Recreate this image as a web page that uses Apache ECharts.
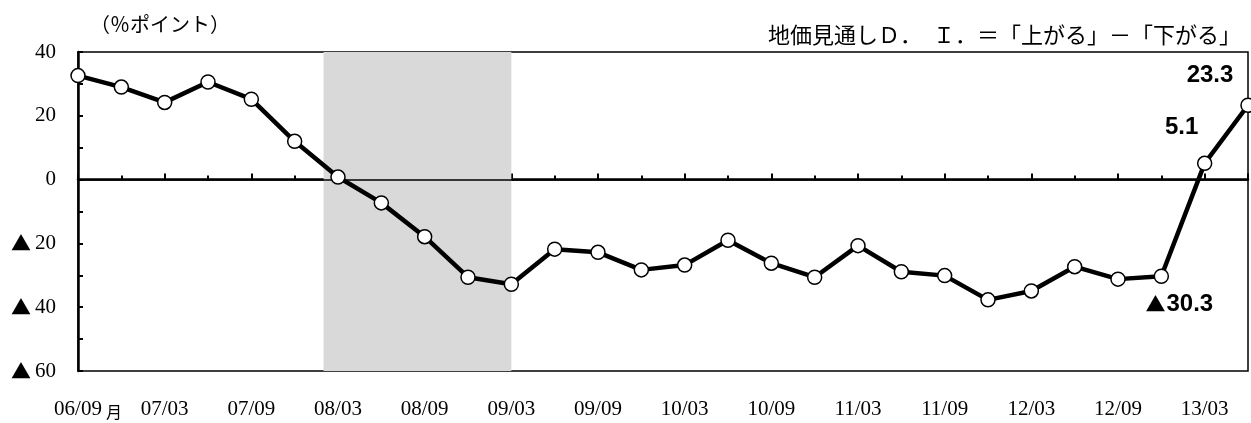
<!DOCTYPE html>
<html>
<head>
<meta charset="utf-8">
<script src="https://cdn.jsdelivr.net/npm/echarts@6.0.0/dist/echarts.min.js"></script>
<style>
  html, body { margin: 0; padding: 0; background: #fff; }
  #chart { width: 1251px; height: 423px; }
</style>
</head>
<body>
<div id="chart"></div>
<script>
// quarterly survey, 06/09 .. 13/06
const quarters = [
  '06/09', '06/12', '07/03', '07/06', '07/09', '07/12', '08/03', '08/06',
  '08/09', '08/12', '09/03', '09/06', '09/09', '09/12', '10/03', '10/06',
  '10/09', '10/12', '11/03', '11/06', '11/09', '11/12', '12/03', '12/06',
  '12/09', '12/12', '13/03', '13/06'
]
const diValues = [
  32.6, 29.0, 24.2, 30.6, 25.2, 12.0, 0.8, -7.3,
  -17.9, -30.6, -32.8, -21.8, -22.8, -28.3, -26.8, -19.0,
  -26.2, -30.6, -20.7, -28.9, -30.1, -37.7, -34.9, -27.3,
  -31.2, -30.3, 5.1, 23.3
]
const labeledPoints = [25, 26, 27]
// recession band: 2008/02 .. 2009/03 (in quarter index units)
const recessionBand = [5 + 2 / 3, 10]
const yTicks = [-60, -40, -20, 0, 20, 40]

const serif = '"Liberation Serif", "DejaVu Serif", serif'
const jp = '"Noto Sans CJK JP", sans-serif'
const narrow = '"Liberation Sans Narrow", "Liberation Sans", sans-serif'

// negative values are written with a ▲ in front
function fmtValue(v) {
    return v < 0 ? '{tri|▲}' + Math.abs(v) : String(v)
}

const labelOffsets = {
    25: [18, 28],
    26: [-23, -36],
    27: [-38, -30]
}

const seriesData = diValues.map((v, i) => {
    const item = { value: [i, v] }
    if (labeledPoints.includes(i)) {
        item.label = {
            show: true,
            position: 'inside',
            offset: labelOffsets[i],
            formatter: p => fmtValue(p.value[1]),
            fontFamily: narrow,
            fontWeight: 'bold',
            fontSize: 24,
            color: '#000',
            rich: {
                tri: { fontFamily: jp, fontSize: 20, color: '#000', padding: [0, 1, 0, 0] }
            }
        }
    }
    return item
})

const chart = echarts.init(document.getElementById('chart'))

chart.setOption({
    animation: false,
    grid: {
        left: 78,
        right: 2,
        top: 52,
        bottom: 52,
        show: true,
        borderColor: '#000',
        borderWidth: 1.5,
        backgroundColor: 'transparent'
    },
    xAxis: {
        type: 'value',
        min: 0,
        max: quarters.length - 1,
        interval: 2,
        axisLine: { show: true, lineStyle: { color: '#000', width: 2.5 } },
        axisTick: { show: true, inside: true, length: 6, lineStyle: { color: '#000', width: 2 } },
        minorTick: { show: true, splitNumber: 2, length: 4, lineStyle: { color: '#000', width: 2 } },
        splitLine: { show: false },
        axisLabel: {
            margin: 28,
            color: '#000',
            fontFamily: serif,
            fontSize: 21,
            formatter: v => (v % 2 === 0 && quarters[v]) ? quarters[v] : ''
        }
    },
    yAxis: {
        type: 'value',
        min: yTicks[0],
        max: yTicks[yTicks.length - 1],
        interval: 20,
        axisLine: { show: true, lineStyle: { color: '#000', width: 2.5 } },
        axisTick: { show: true, inside: true, length: 5, lineStyle: { color: '#000', width: 2 } },
        minorTick: { show: true, splitNumber: 2, length: 5, lineStyle: { color: '#000', width: 2 } },
        splitLine: { show: false },
        axisLabel: {
            margin: 22,
            color: '#000',
            fontFamily: serif,
            fontSize: 21,
            formatter: v => fmtValue(v),
            rich: {
                tri: { fontFamily: jp, fontSize: 20, color: '#000', padding: [0, 4, 0, 0] }
            }
        }
    },
    series: [
        {
            type: 'line',
            data: seriesData,
            symbol: 'circle',
            symbolSize: 14,
            itemStyle: { color: '#fff', borderColor: '#000', borderWidth: 1.5 },
            lineStyle: { color: '#000', width: 4.5 },
            z: 5,
            markArea: {
                silent: true,
                itemStyle: { color: '#d9d9d9' },
                data: [[{ xAxis: recessionBand[0] }, { xAxis: recessionBand[1] }]]
            },
            markLine: {
                silent: true,
                symbol: 'none',
                label: { show: false },
                lineStyle: { color: '#000', width: 1.5, type: 'solid' },
                data: [{ yAxis: 0 }]
            }
        }
    ],
    graphic: [
        {
            type: 'text',
            left: 90,
            top: 14,
            style: { text: '（％ポイント）', font: '20px ' + jp, fill: '#000' }
        },
        {
            type: 'text',
            right: 10,
            top: 24,
            style: {
                text: '地価見通しＤ．　Ｉ．＝「上がる」－「下がる」',
                font: '22px ' + jp,
                fill: '#000'
            }
        },
        {
            type: 'text',
            left: 106,
            top: 404,
            style: { text: '月', font: '16px ' + jp, fill: '#000' }
        }
    ]
})
</script>
</body>
</html>
